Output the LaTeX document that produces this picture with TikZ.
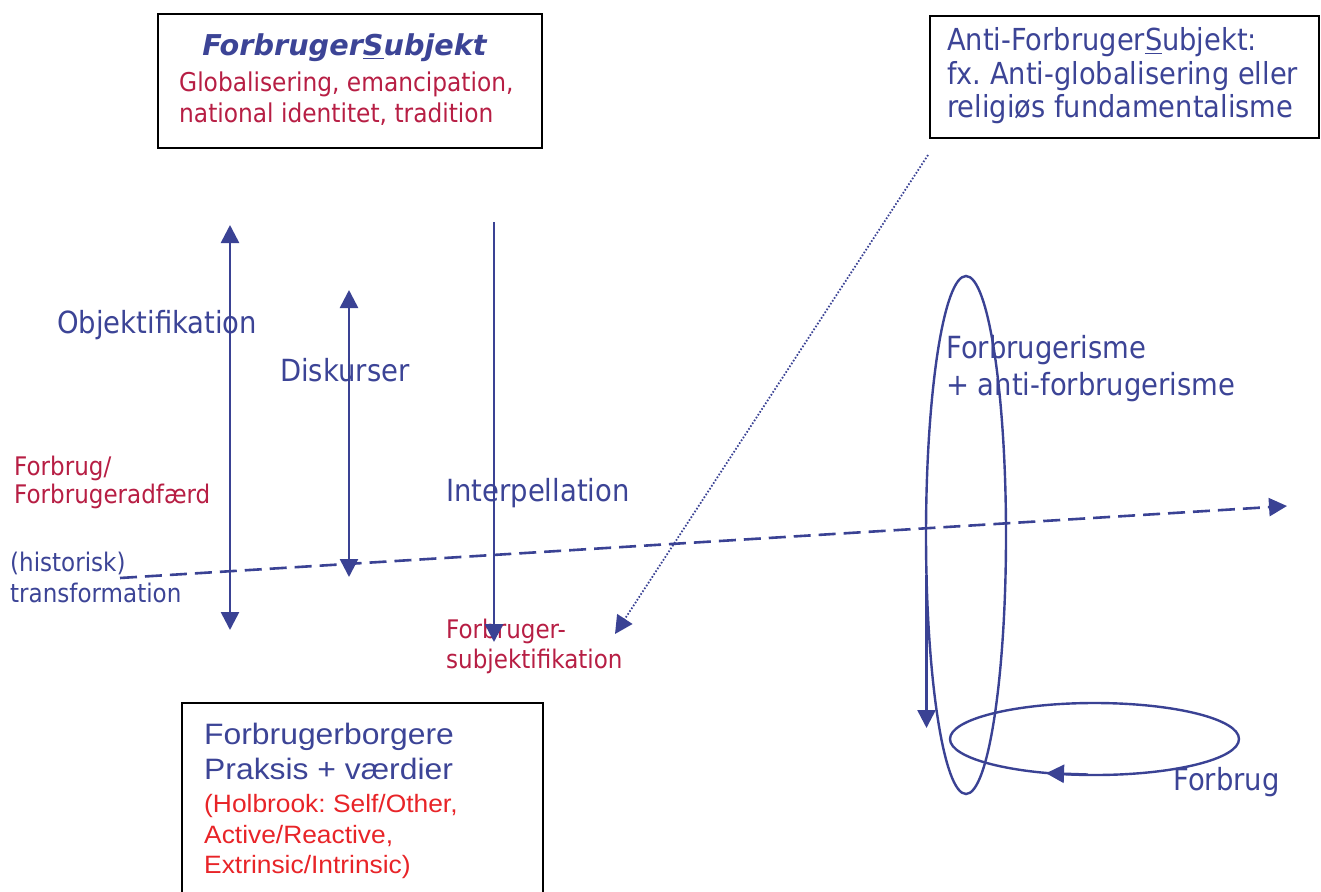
\documentclass[tikz,border=0pt]{standalone}
\usepackage{fontspec}
\setmainfont{DejaVu Sans}
\newfontfamily\tah[FakeStretch=0.9]{DejaVu Sans}
\newfontfamily\arialf[FakeStretch=1.08]{Liberation Sans}
\newfontfamily\arialw[FakeStretch=1.05]{Liberation Sans}
\usetikzlibrary{arrows.meta,shapes.geometric}
\definecolor{tblue}{RGB}{60,68,150}
\definecolor{tred}{RGB}{183,30,68}
\definecolor{bred}{RGB}{232,36,40}
\definecolor{lblue}{RGB}{58,66,148}
\frenchspacing
\begin{document}
\begin{tikzpicture}[x=1pt,y=-1pt,
  big/.style={anchor=base west, inner sep=0pt, text=tblue, font=\tah\fontsize{30.5}{36}\selectfont},
  sml/.style={anchor=base west, inner sep=0pt, text=tred, font=\tah\fontsize{25.6}{30}\selectfont},
  smb/.style={sml, text=tblue},
  boxr/.style={draw=black, line width=2.2pt, fill=none, inner sep=0pt},
  conn/.style={draw=lblue, line width=2.6pt},
  tip/.style={-{Triangle[width=18pt,length=18pt]}},
  tips/.style={{Triangle[width=18pt,length=18pt]}-{Triangle[width=18pt,length=18pt]}},
  ring/.style={draw=lblue, line width=2.4pt, ellipse, fill=none, inner sep=0pt}]
\useasboundingbox (0,0) rectangle (1321,891);
% boxes
\node[boxr, minimum width=384pt, minimum height=134pt] (boxA) at (350,81) {};
\node[boxr, minimum width=389pt, minimum height=122pt] (boxB) at (1124.5,77) {};
\node[boxr, minimum width=361pt, minimum height=200pt] (boxC) at (362.5,803) {};
% top-left box text
\node[anchor=base, inner sep=0pt, text=tblue, font=\fontsize{28.7}{34}\selectfont\bfseries\itshape] (title) at (344.5,56) {Forbruger\underline{S}ubjekt};
\node[sml, font=\tah\fontsize{25.9}{30}\selectfont] (gl1) at (179,91) {Globalisering, emancipation,};
\node[sml, font=\tah\fontsize{25.9}{30}\selectfont] (gl2) at (179,122) {national identitet, tradition};
% top-right box text
\node[big, font=\tah\fontsize{30.3}{36}\selectfont] (an1) at (947,51) {Anti-Forbruger\underline{S}ubjekt:};
\node[big, font=\tah\fontsize{30.3}{36}\selectfont] (an2) at (947,84) {fx. Anti-globalisering eller};
\node[big, font=\tah\fontsize{30.3}{36}\selectfont] (an3) at (947,117) {religiøs fundamentalisme};
% bottom box text
\node[anchor=base west, inner sep=0pt, text=tblue, font=\arialf\fontsize{29.5}{35}\selectfont] (fb1) at (204,744) {Forbrugerborgere};
\node[anchor=base west, inner sep=0pt, text=tblue, font=\arialf\fontsize{29.5}{35}\selectfont] (fb2) at (204,779) {Praksis + værdier};
\node[anchor=base west, inner sep=0pt, text=bred, font=\arialw\fontsize{25.1}{30}\selectfont] (hb1) at (204,812) {(Holbrook: Self/Other,};
\node[anchor=base west, inner sep=0pt, text=bred, font=\arialw\fontsize{25.1}{30}\selectfont] (hb2) at (204,843) {Active/Reactive,};
\node[anchor=base west, inner sep=0pt, text=bred, font=\arialw\fontsize{25.1}{30}\selectfont] (hb3) at (204,873) {Extrinsic/Intrinsic)};
% labels
\node[big] (obj) at (57,333) {Objektifikation};
\node[big] (disk) at (280,381) {Diskurser};
\node[big] (intp) at (446,501) {Interpellation};
\node[big] (fism1) at (946,358) {Forbrugerisme};
\node[big] (fism2) at (946,395) {+ anti-forbrugerisme};
\node[big] (fbr) at (1173,790) {Forbrug};
\node[sml] (fa1) at (14,475) {Forbrug/};
\node[sml] (fa2) at (14,503) {Forbrugeradfærd};
\node[smb] (hi1) at (10,571) {(historisk)};
\node[smb] (hi2) at (10,602) {transformation};
\node[sml] (fs1) at (446,638) {Forbruger-};
\node[sml] (fs2) at (446,668) {subjektifikation};
% coordinates
\coordinate (o1) at (230,225);
\coordinate (o2) at (230,630);
\coordinate (d1) at (349,290);
\coordinate (d2) at (349,577);
\coordinate (i1) at (494,222);
\coordinate (i2) at (494,642);
\coordinate (h1) at (120,578);
\coordinate (h2) at (1287,506);
\coordinate (p1) at (928,155);
\coordinate (p2) at (615,634);
\coordinate (v1) at (926.5,575);
\coordinate (v2) at (926.5,728);
\coordinate (e1) at (1088,774.6);
\coordinate (e2) at (1046,773.2);
% ellipses
\node[ring, minimum width=80pt, minimum height=518pt] (tall) at (966,535) {};
\node[ring, minimum width=289pt, minimum height=72pt] (flat) at (1094.5,739) {};
% connectors
\draw[conn, tips] (o1) -- (o2);
\draw[conn, tips] (d1) -- (d2);
\draw[conn, tip] (i1) -- (i2);
\draw[conn, tip, dash pattern=on 17pt off 8pt] (h1) -- (h2);
\draw[draw=lblue, line width=1.8pt, dash pattern=on 1.6pt off 1.8pt, -{Triangle[width=18pt,length=18pt]}] (p1) -- (p2);
\draw[conn, tip] (v1) -- (v2);
\draw[conn, tip] (e1) -- (e2);
\end{tikzpicture}
\end{document}
